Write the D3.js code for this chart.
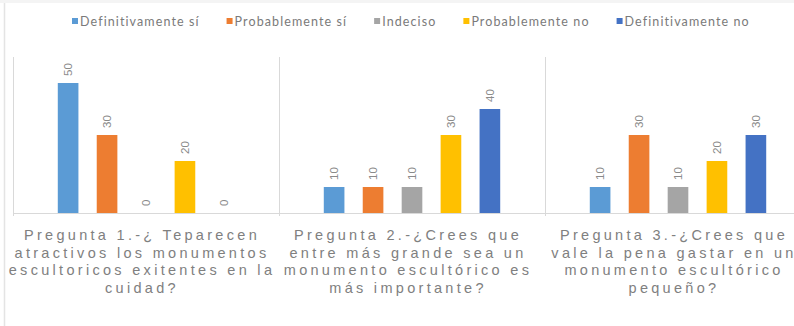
<!DOCTYPE html>
<html>
<head>
<meta charset="utf-8">
<script src="https://cdn.jsdelivr.net/npm/d3@7"></script>
<style>
  html, body { margin: 0; padding: 0; background: #ffffff; }
  svg { display: block; }
</style>
</head>
<body>
<svg id="chart" width="794" height="326"></svg>
<script>
// Survey questions (x categories), each label broken into its display lines
const questions = ["P1", "P2", "P3"];
const questionLines = [
  ["Pregunta 1.-¿ Teparecen", "atractivos los monumentos", "escultoricos exitentes en la", "cuidad?"],
  ["Pregunta 2.-¿Crees que", "entre más grande sea un", "monumento escultórico es", "más importante?"],
  ["Pregunta 3.-¿Crees que", "vale la pena gastar en un", "monumento escultórico", "pequeño?"]
];

// Answer options (series) and their colours
const series = ["Definitivamente sí", "Probablemente sí", "Indeciso", "Probablemente no", "Definitivamente no"];
const seriesColors = ["#5B9BD5", "#ED7D31", "#A5A5A5", "#FFC000", "#4472C4"];

// Responses per question, one array per answer option
const defSi   = [50, 10, 10];
const probSi  = [30, 10, 30];
const indeciso = [0, 10, 10];
const probNo  = [20, 30, 20];
const defNo   = [0, 40, 30];
const seriesValues = [defSi, probSi, indeciso, probNo, defNo];

const yDomainMax = 60;

const svg = d3.select("#chart");

// Outer frame edge on the left
svg.append("line")
  .attr("x1", 4.5).attr("x2", 4.5).attr("y1", 0).attr("y2", 326)
  .attr("stroke", "#e4e4e4").attr("stroke-width", 1.5);
svg.append("rect")
  .attr("x", 0).attr("y", 0).attr("width", 794).attr("height", 3)
  .attr("fill", "#f4f4f4");

const groupWidth = 266;
const plotLeft = 13;
const plotTop = 57;
const plotBottom = 213;

const x0 = d3.scaleBand()
  .domain(questions)
  .range([plotLeft, plotLeft + groupWidth * questions.length])
  .paddingInner(0).paddingOuter(0);

const x1 = d3.scaleBand()
  .domain(series)
  .range([0, x0.bandwidth()])
  .paddingInner(0.47).paddingOuter(1.15);

const y = d3.scaleLinear().domain([0, yDomainMax]).range([plotBottom, plotTop]);

// Category separators
const boundaries = questions.map(q => x0(q));
svg.append("g").selectAll("line")
  .data(boundaries)
  .join("line")
  .attr("x1", d => d + 0.5).attr("x2", d => d + 0.5)
  .attr("y1", plotTop).attr("y2", plotBottom + 3)
  .attr("stroke", "#d9d9d9").attr("stroke-width", 1);

// Bars
const groups = svg.append("g").selectAll("g")
  .data(questions)
  .join("g")
  .attr("transform", q => `translate(${x0(q)},0)`);

const cells = groups.selectAll("g.cell")
  .data((q, qi) => series.map((s, si) => ({ s, si, v: seriesValues[si][qi] })))
  .join("g").attr("class", "cell");

cells.append("rect")
  .attr("x", d => x1(d.s))
  .attr("y", d => y(d.v))
  .attr("width", x1.bandwidth())
  .attr("height", d => y(0) - y(d.v))
  .attr("fill", d => seriesColors[d.si]);

// Rotated value labels above each bar
cells.append("text")
  .attr("transform", d => `translate(${x1(d.s) + x1.bandwidth() / 2},${y(d.v) - 7}) rotate(-90)`)
  .attr("text-anchor", "start")
  .attr("dominant-baseline", "central")
  .attr("font-family", "Liberation Sans, Arial, sans-serif")
  .attr("font-size", 11.5)
  .attr("fill", "#8a8a8a")
  .text(d => d.v);

// Horizontal axis line
svg.append("line")
  .attr("x1", plotLeft).attr("x2", 794)
  .attr("y1", plotBottom + 0.5).attr("y2", plotBottom + 0.5)
  .attr("stroke", "#d9d9d9").attr("stroke-width", 1);

// Category labels (multi-line, letter-spaced)
const catText = svg.append("g").selectAll("text")
  .data(questions)
  .join("text")
  .attr("text-anchor", "middle")
  .attr("font-family", "Liberation Sans, Arial, sans-serif")
  .attr("font-size", 14.5)
  .attr("letter-spacing", "3.3px")
  .attr("fill", "#808080");

catText.each(function(q, qi) {
  const cx = x0(q) + x0.bandwidth() / 2 - 4;
  d3.select(this).selectAll("tspan")
    .data(questionLines[qi])
    .join("tspan")
    .attr("x", cx)
    .attr("y", (d, i) => 240 + i * 17.6)
    .text(d => d);
});

// Legend
const legend = svg.append("g");
const items = legend.selectAll("g")
  .data(series)
  .join("g");
items.append("rect")
  .attr("width", 6).attr("height", 6)
  .attr("y", 18)
  .attr("fill", (d, i) => seriesColors[i]);
items.append("text")
  .attr("x", 8)
  .attr("y", 21)
  .attr("dominant-baseline", "central")
  .attr("font-family", "Lato, 'Open Sans', sans-serif")
  .attr("font-size", 12.5)
  .attr("letter-spacing", "1.1px")
  .attr("fill", "#7a7a7a")
  .text(d => d);

let cursor = 0;
const widths = [];
items.each(function() {
  const w = d3.select(this).select("text").node().getComputedTextLength();
  widths.push(w);
});
const itemGap = 27;
const offsets = widths.map(w => { const o = cursor; cursor += 8 + w + itemGap; return o; });
const total = cursor - itemGap;
const legendStart = 72;
items.attr("transform", (d, i) => `translate(${legendStart + offsets[i]},0)`);
</script>
</body>
</html>
